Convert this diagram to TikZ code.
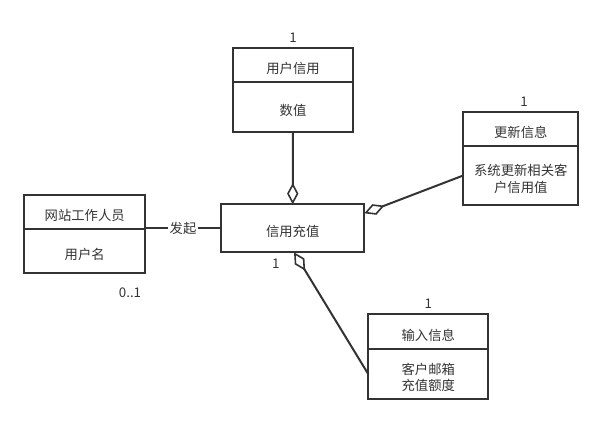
\documentclass[tikz,border=0pt]{standalone}
\usepackage{fontspec}
\setmainfont{Noto Sans CJK SC}
\usetikzlibrary{positioning,arrows.meta}
\definecolor{linegray}{HTML}{333333}
\definecolor{textgray}{HTML}{333333}

\begin{document}
\begin{tikzpicture}[x=0.75pt,y=-0.75pt,
    font=\fontsize{10pt}{12.5pt}\selectfont,
    classbox/.style={draw=linegray,line width=1.5pt,text=textgray,outer sep=0pt,inner sep=2pt,align=center,text height=13.5pt},
    twolines/.style={text height=26pt},
    mult/.style={text=textgray,inner sep=0pt},
    assoc/.style={draw=linegray,line width=1.5pt,-{Diamond[open,length=16pt,width=8.5pt,line width=1.2pt]}},
    plain/.style={draw=linegray,line width=1.5pt}]
  \useasboundingbox (0,0) rectangle (609,425);

  % user credit
  \node[classbox,minimum width=90pt,minimum height=25.5pt,anchor=north] (credhdr) at (293,48) {用户信用};
  \node[classbox,minimum width=90pt,minimum height=37.5pt,below=0pt of credhdr] (credbody) {数值};
  \node[mult,above=4pt of credhdr] (credmult) {1};

  % update info
  \node[classbox,minimum width=86.25pt,minimum height=25.7pt,anchor=north] (updhdr) at (520.8,111.7) {更新信息};
  \node[classbox,twolines,minimum width=86.25pt,minimum height=44.25pt,below=0pt of updhdr] (updbody) {系统更新相关客\\户信用值};
  \node[mult,above=4pt of updhdr,xshift=2.5pt] (updmult) {1};

  % staff
  \node[classbox,minimum width=90.5pt,minimum height=25.5pt,anchor=north] (staffhdr) at (84.7,195) {网站工作人员};
  \node[classbox,minimum width=90.5pt,minimum height=33.2pt,below=0pt of staffhdr] (staffbody) {用户名};
  \node[mult] (staffmult) at ([shift={(-15,19)}]staffbody.south east) {0..1};

  % recharge
  \node[classbox,minimum width=107.5pt,minimum height=36pt] (recharge) at (292.7,228.3) {信用充值};
  \node[mult] (rechmult) at ([shift={(-17,11)}]recharge.south) {1};

  % input info
  \node[classbox,minimum width=90pt,minimum height=26.5pt,anchor=north] (inhdr) at (428.3,314) {输入信息};
  \node[classbox,twolines,minimum width=90pt,minimum height=37.3pt,below=0pt of inhdr] (inbody) {客户邮箱\\充值额度};
  \node[mult,above=4pt of inhdr] (inmult) {1};

  % links
  \draw[assoc] (credbody.south) -- (recharge.north);
  \draw[assoc] (updbody.west) -- ([yshift=-6.75pt]recharge.north east);
  \draw[assoc] (inbody.west) -- ([xshift=1pt]recharge.south);
  \draw[plain] (staffhdr.south east |- recharge.west) -- node[fill=white,text=textgray,inner sep=1pt] (start) {发起} (recharge.west);
\end{tikzpicture}
\end{document}
